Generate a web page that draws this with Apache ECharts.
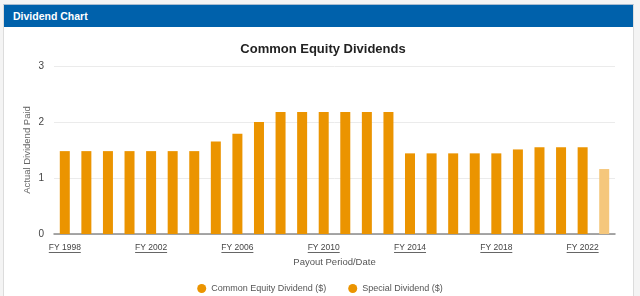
<!DOCTYPE html>
<html>
<head>
<meta charset="utf-8">
<script src="https://cdn.jsdelivr.net/npm/echarts@6/dist/echarts.min.js"></script>
<style>
  html, body { margin: 0; padding: 0; background: #f4f4f4; }
  .panel { position: absolute; left: 3px; top: 4px; width: 629px; height: 300px; background: #fff; border: 1px solid #dcdcdc; border-top: 1px solid #a9bcd0; }
  .head { position: absolute; left: 0; top: 0; right: 0; height: 22px; background: #0061ab; color: #fff;
          font: bold 10.5px "Liberation Sans", Arial, sans-serif; line-height: 22px; padding-left: 9px; }
  #main { position: absolute; left: 0; top: 0; width: 640px; height: 296px; }
</style>
</head>
<body>
<div class="panel"><div class="head">Dividend Chart</div></div>
<div id="main"></div>
<script>
// fiscal years shown on the x axis
var years = ['FY 1998','FY 1999','FY 2000','FY 2001','FY 2002','FY 2003','FY 2004','FY 2005','FY 2006',
  'FY 2007','FY 2008','FY 2009','FY 2010','FY 2011','FY 2012','FY 2013','FY 2014','FY 2015','FY 2016',
  'FY 2017','FY 2018','FY 2019','FY 2020','FY 2021','FY 2022','FY 2023'];
// common equity dividend per year ($), last year is partial
var commonDividend = [1.48,1.48,1.48,1.48,1.48,1.48,1.48,1.65,1.79,2.0,2.18,2.18,2.18,2.18,2.18,2.18,
  1.44,1.44,1.44,1.44,1.44,1.51,1.55,1.55,1.55,1.16];
// no special dividends paid
var specialDividend = [];
var yTicks = [0, 1, 2, 3];

var orange = '#eb9400';
var lightOrange = '#f5c77c';
var font = '"Liberation Sans", Arial, sans-serif';

var chart = echarts.init(document.getElementById('main'));
var option = {
  backgroundColor: 'transparent',
  textStyle: { fontFamily: font },
  title: {
    text: 'Common Equity Dividends',
    left: 318, top: 38, textAlign: 'center',
    textStyle: { fontSize: 13, fontWeight: 'bold', color: '#222', fontFamily: font }
  },
  legend: {
    data: ['Common Equity Dividend ($)', 'Special Dividend ($)'],
    top: 279, left: 'center',
    icon: 'circle', itemWidth: 9, itemHeight: 9, itemGap: 22,
    textStyle: { fontSize: 9, color: '#555', fontFamily: font }
  },
  grid: { left: 54, right: 25, top: 66, height: 168 },
  xAxis: {
    type: 'category',
    data: years,
    name: 'Payout Period/Date',
    nameLocation: 'middle', nameGap: 23,
    nameTextStyle: { fontSize: 9.5, color: '#555', fontFamily: font },
    axisLine: { lineStyle: { color: '#8a8a8a', width: 1.5 } },
    axisTick: { show: false },
    axisLabel: { interval: 3, fontSize: 8.5, color: '#444', margin: 9, fontFamily: font }
  },
  yAxis: {
    type: 'value', min: yTicks[0], max: yTicks[yTicks.length - 1], interval: 1,
    name: 'Actual Dividend Paid',
    nameLocation: 'middle', nameGap: 22, nameMoveOverlap: false,
    nameTextStyle: { fontSize: 9.5, color: '#666', fontFamily: font },
    axisLabel: { fontSize: 10, color: '#444', margin: 10, fontFamily: font },
    splitLine: { lineStyle: { color: '#ebebeb' } }
  },
  series: [{
    name: 'Common Equity Dividend ($)',
    type: 'bar', stack: 'div', barWidth: 10,
    itemStyle: { color: orange },
    data: commonDividend.map(function(v, i) {
      return i === commonDividend.length - 1 ? { value: v, itemStyle: { color: lightOrange } } : v;
    })
  }, {
    name: 'Special Dividend ($)',
    type: 'bar', stack: 'div', barWidth: 10,
    itemStyle: { color: orange },
    data: specialDividend
  }]
};
chart.setOption(option);

// underline the shown x labels
var lines = [];
for (var i = 0; i < years.length; i += 4) {
  var x = chart.convertToPixel({ xAxisIndex: 0 }, years[i]);
  lines.push({
    type: 'line', silent: true,
    shape: { x1: x - 16, y1: 252.5, x2: x + 16, y2: 252.5 },
    style: { stroke: '#666', lineWidth: 1 }
  });
}
chart.setOption({ graphic: lines });
</script>
</body>
</html>
